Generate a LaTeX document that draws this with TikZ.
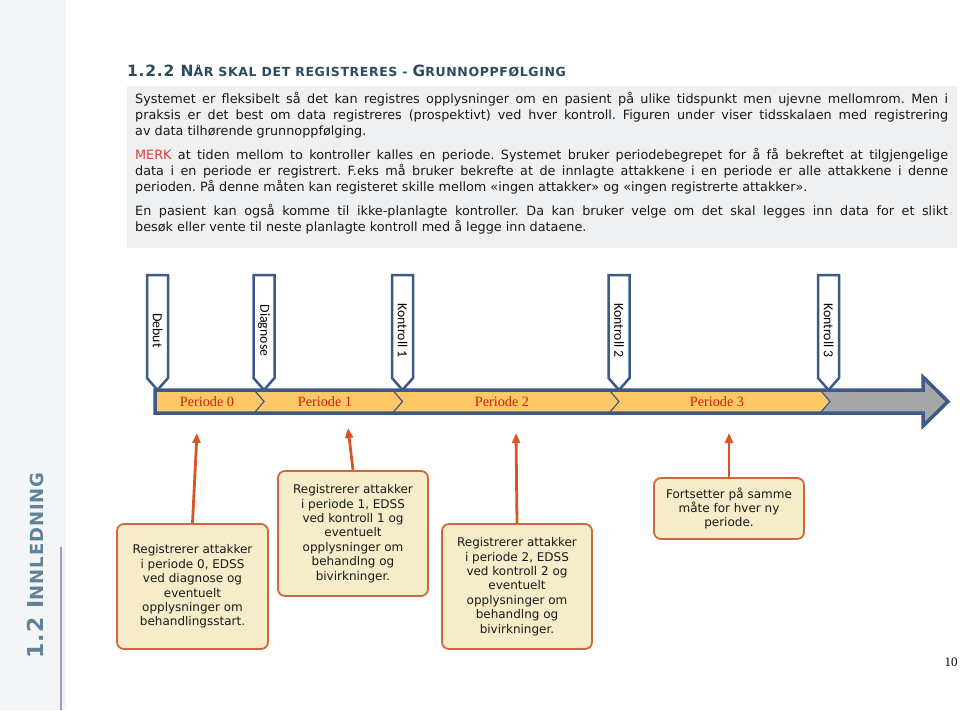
\documentclass[tikz,border=0pt]{standalone}
\usepackage{fontspec}
\setmainfont{DejaVu Sans}
\newfontfamily\calfont{Carlito}
\newfontfamily\serffont{Liberation Serif}
\usetikzlibrary{arrows.meta}
\definecolor{flagblue}{RGB}{60,90,135}
\definecolor{baryellow}{RGB}{254,200,102}
\definecolor{tailgray}{RGB}{166,166,166}
\definecolor{boxfill}{RGB}{246,236,202}
\definecolor{boxline}{RGB}{205,105,60}
\definecolor{pointred}{RGB}{212,86,42}
\definecolor{periodred}{RGB}{204,34,10}
\definecolor{titleblue}{RGB}{45,75,95}
\definecolor{panelgray}{RGB}{238,240,242}
\definecolor{sidegray}{RGB}{244,245,247}
\definecolor{sideblue}{RGB}{94,131,151}
\definecolor{sidepurple}{RGB}{166,151,204}
\definecolor{merkred}{RGB}{226,56,56}
\tikzstyle{flag}=[draw=flagblue, line width=2.5pt, fill=white, line join=miter]
\tikzstyle{flagtext}=[rotate=-90, font=\calfont\fontsize{13.8}{14}\selectfont, inner sep=0pt]
\tikzstyle{periode}=[font=\serffont\fontsize{14.2}{15}\selectfont, text=periodred, inner sep=0pt]
\tikzstyle{callout}=[draw=boxline, line width=1.8pt, fill=boxfill, rounded corners=7pt, align=center, font=\fontsize{12}{14.4}\selectfont, inner sep=0pt, text=black!90]
\tikzstyle{pointer}=[draw=pointred, line width=2.8pt, -{Triangle[length=10pt,width=8pt]}]
\newcommand{\callout}{\node[callout]}
\newcommand{\capsz}[2]{{\fontsize{#1}{#1}\selectfont #2}}

\begin{document}
\begin{tikzpicture}[x=1pt,y=-1pt]
\useasboundingbox (0,0) rectangle (960,710);
%% side strip
\fill[sidegray] (0,0) rectangle (66,710);
\draw[sidepurple, line width=2pt] (61,547) -- (61,710);
\node[rotate=90, text=sideblue, font=\bfseries\addfontfeature{LetterSpace=5}, inner sep=0pt] (chapter) at (35,565.5) {\capsz{22}{1.2 I}\capsz{18}{NNLEDNING}};
%% heading and text panel
\node[anchor=base west, text=titleblue, font=\bfseries\addfontfeature{LetterSpace=5}, inner sep=0pt] (title) at (127,76) {\capsz{15.5}{1.2.2 N}\capsz{12.5}{ÅR SKAL DET REGISTRERES - }\capsz{15.5}{G}\capsz{12.5}{RUNNOPPFØLGING}};
\fill[panelgray] (127,86) rectangle (957,248);
\node[anchor=north west, text width=813pt, align=justify, inner sep=0pt, font=\fontsize{12.8}{16}\selectfont, text=black!90] (intro) at (135,92) {\frenchspacing\tolerance=9999\hbadness=10000\parskip=8pt
Systemet er fleksibelt så det kan registres opplysninger om en pasient på ulike tidspunkt men ujevne mellomrom. Men i\linebreak
praksis er det best om data registreres (prospektivt) ved hver kontroll. Figuren under viser tidsskalaen med registrering\linebreak
av data tilhørende grunnoppfølging.\par
\textcolor{merkred}{MERK} at tiden mellom to kontroller kalles en periode. Systemet bruker periodebegrepet for å få bekreftet at tilgjengelige\linebreak
data i en periode er registrert. F.eks må bruker bekrefte at de innlagte attakkene i en periode er alle attakkene i denne\linebreak
perioden. På denne måten kan registeret skille mellom «ingen attakker» og «ingen registrerte attakker».\par
En pasient kan også komme til ikke-planlagte kontroller. Da kan bruker velge om det skal legges inn data for et slikt\linebreak
besøk eller vente til neste planlagte kontroll med å legge inn dataene.};
%% time axis
\fill[tailgray] (155,390) -- (923,390) -- (923,377) -- (948,401.5) -- (923,426) -- (923,413) -- (155,413) -- cycle;
\fill[baryellow] (157,390) -- (821,390) -- (830,401.5) -- (821,413) -- (157,413) -- cycle;
\foreach \x in {264,402.5,619}{\draw[flagblue, line width=1.2pt] (\x-9,391) -- (\x,401.5) -- (\x-9,412);}
\draw[flagblue, line width=1.2pt] (821,391) -- (830,401.5) -- (821,412);
\draw[flagblue, line width=3.5pt, line join=miter] (155,390) -- (923,390) -- (923,377) -- (948,401.5) -- (923,426) -- (923,413) -- (155,413) -- cycle;
%% milestones
\foreach \x/\lab [count=\i from 0] in {157.5/Debut, 264/Diagnose, 402.5/Kontroll 1, 619/Kontroll 2, 828.5/Kontroll 3}{
	\draw[flag] (\x-10.5,275) -- (\x+10.5,275) -- (\x+10.5,378) -- (\x,390) -- (\x-10.5,378) -- cycle;
	\node[flagtext] (flag\i) at (\x,330.5) {\lab};
}
\foreach \x/\n in {207/0, 325/1, 502/2, 717/3}{\node[periode] (per\n) at (\x,402) {Periode \n};}
%% what is registered
\coordinate (t0) at (197,433);
\coordinate (t1) at (348,428);
\coordinate (t2) at (516,433);
\coordinate (t3) at (729,433);
\callout[minimum width=151pt, minimum height=125pt] (b0) at (192.5,586.5) {Registrerer attakker\\i periode 0, EDSS\\ved diagnose og\\eventuelt\\opplysninger om\\behandlingsstart.};
\callout[minimum width=150pt, minimum height=125pt] (b1) at (353,533.5) {Registrerer attakker\\i periode 1, EDSS\\ved kontroll 1 og\\eventuelt\\opplysninger om\\behandlng og\\bivirkninger.};
\callout[minimum width=150pt, minimum height=125pt] (b2) at (517,586.5) {Registrerer attakker\\i periode 2, EDSS\\ved kontroll 2 og\\eventuelt\\opplysninger om\\behandlng og\\bivirkninger.};
\callout[minimum width=150pt, minimum height=61pt] (b3) at (729,508.5) {Fortsetter på samme\\måte for hver ny\\periode.};
\draw[pointer] (b0.north) -- (t0);
\draw[pointer] (b1.north) -- (t1);
\draw[pointer] (b2.north) -- (t2);
\draw[pointer] (b3.north) -- (t3);
\node[font=\serffont\fontsize{13}{13}\selectfont, inner sep=0pt] (pagenum) at (951,662) {10};
\end{tikzpicture}
\end{document}
